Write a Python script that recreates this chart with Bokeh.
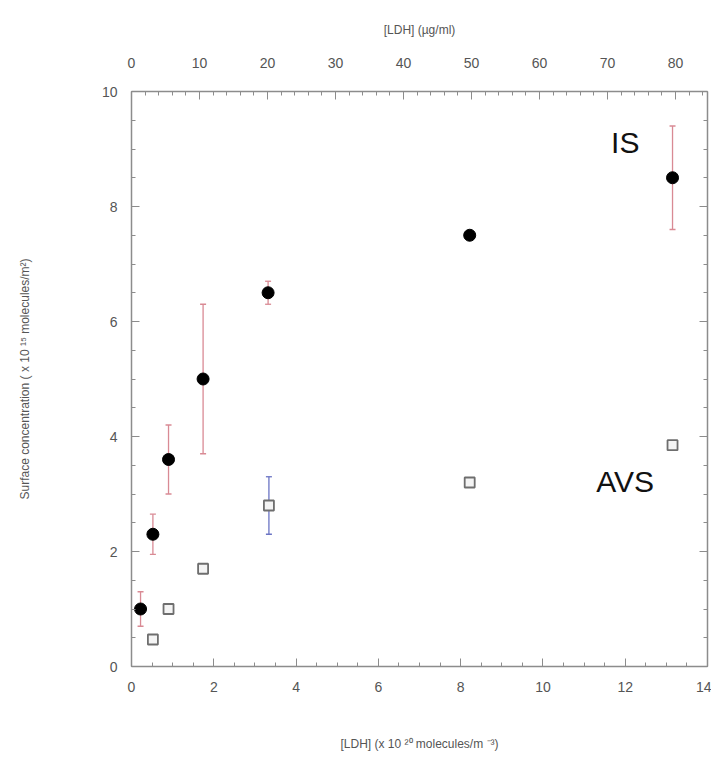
from bokeh.plotting import figure
from bokeh.models import (ColumnDataSource, Whisker, LinearAxis, Range1d, SingleIntervalTicker,
                          Label, TeeHead, CustomJSTickFormatter)
from bokeh.embed import file_html
from bokeh.resources import INLINE

# ---- data ----
is_x = [0.22, 0.52, 0.90, 1.74, 3.32, 8.22, 13.15]
is_y = [1.0, 2.3, 3.6, 5.0, 6.5, 7.5, 8.5]
is_err = [0.3, 0.35, 0.6, 1.3, 0.2, 0.0, 0.9]

avs_x = [0.52, 0.90, 1.74, 3.34, 8.22, 13.15]
avs_y = [0.47, 1.0, 1.7, 2.8, 3.2, 3.85]
avs_err = [0.0, 0.0, 0.0, 0.5, 0.0, 0.0]

x_ticks_step = 2
y_ticks_step = 2
top_ticks_step = 10
x_max = 14
y_max = 10
top_max = 84.7

FONT = "Liberation Sans"
GRAY = "#555555"
AXIS_GRAY = "#8c8c8c"

p = figure(width=711, height=764, output_backend="svg", toolbar_location=None,
           x_range=Range1d(0, x_max), y_range=Range1d(0, y_max),
           min_border_left=131, min_border_right=4, min_border_top=91, min_border_bottom=98,
           background_fill_color="white", border_fill_color="white")
p.grid.visible = False
p.outline_line_color = None

p.extra_x_ranges = {"ug": Range1d(0, top_max)}


def style_axis(ax, label_size="14px"):
    ax.axis_line_color = AXIS_GRAY
    ax.axis_line_width = 1.5
    ax.major_tick_line_color = AXIS_GRAY
    ax.minor_tick_line_color = AXIS_GRAY
    ax.major_tick_in = 8
    ax.major_tick_out = 0
    ax.minor_tick_in = 4
    ax.minor_tick_out = 0
    ax.major_label_text_font = FONT
    ax.major_label_text_font_size = label_size
    ax.major_label_text_color = GRAY
    ax.axis_label_text_font = FONT
    ax.axis_label_text_font_size = "12px"
    ax.axis_label_text_font_style = "normal"
    ax.axis_label_text_color = GRAY


xb = p.xaxis[0]
xb.ticker = SingleIntervalTicker(interval=x_ticks_step, num_minor_ticks=4)
xb.axis_label = "[LDH] (x 10 \u00b2\u2070 molecules/m \u207b\u00b3)"
style_axis(xb)
xb.major_label_standoff = 15
xb.axis_label_standoff = 42

yl = p.yaxis[0]
yl.ticker = SingleIntervalTicker(interval=y_ticks_step, num_minor_ticks=4)
yl.axis_label = "Surface concentration ( x 10 \u00b9\u2075 molecules/m\u00b2)"
style_axis(yl)
yl.major_label_standoff = 14
yl.axis_label_standoff = 67

top = LinearAxis(x_range_name="ug", axis_label="[LDH] (\u00b5g/ml)",
                 ticker=SingleIntervalTicker(interval=top_ticks_step, num_minor_ticks=5))
style_axis(top)
top.major_label_standoff = 24
top.axis_label_standoff = 18
p.add_layout(top, "above")

right = LinearAxis(ticker=SingleIntervalTicker(interval=y_ticks_step, num_minor_ticks=4),
                   formatter=CustomJSTickFormatter(code="return ''"))
style_axis(right)
right.major_label_standoff = 0
p.add_layout(right, "right")

# ---- error bars ----
is_src = ColumnDataSource(dict(x=is_x, y=is_y,
                               lo=[y - e for y, e in zip(is_y, is_err)],
                               hi=[y + e for y, e in zip(is_y, is_err)]))
avs_src = ColumnDataSource(dict(x=avs_x, y=avs_y,
                                lo=[y - e for y, e in zip(avs_y, avs_err)],
                                hi=[y + e for y, e in zip(avs_y, avs_err)]))

RED = "#d98a94"
BLUE = "#6b74c4"
w1 = Whisker(source=is_src, base="x", lower="lo", upper="hi", line_color=RED, line_width=1.3,
             upper_head=TeeHead(size=6, line_color=RED, line_width=1.3),
             lower_head=TeeHead(size=6, line_color=RED, line_width=1.3))
w2 = Whisker(source=avs_src, base="x", lower="lo", upper="hi", line_color=BLUE, line_width=1.3,
             upper_head=TeeHead(size=6, line_color=BLUE, line_width=1.3),
             lower_head=TeeHead(size=6, line_color=BLUE, line_width=1.3))
p.add_layout(w1)
p.add_layout(w2)

p.scatter("x", "y", source=avs_src, marker="square", size=10, fill_color="#f4f4f4",
          line_color="#6e6e6e", line_width=1.8)
p.scatter("x", "y", source=is_src, marker="circle", size=12, fill_color="black",
          line_color="black")

p.add_layout(Label(x=12.0, y=9.12, text="IS", text_font=FONT, text_font_size="30px",
                   text_color="#111111", text_align="center", text_baseline="middle"))
p.add_layout(Label(x=12.0, y=3.22, text="AVS", text_font=FONT, text_font_size="30px",
                   text_color="#111111", text_align="center", text_baseline="middle"))

open("out.html", "w").write(file_html(p, INLINE))
